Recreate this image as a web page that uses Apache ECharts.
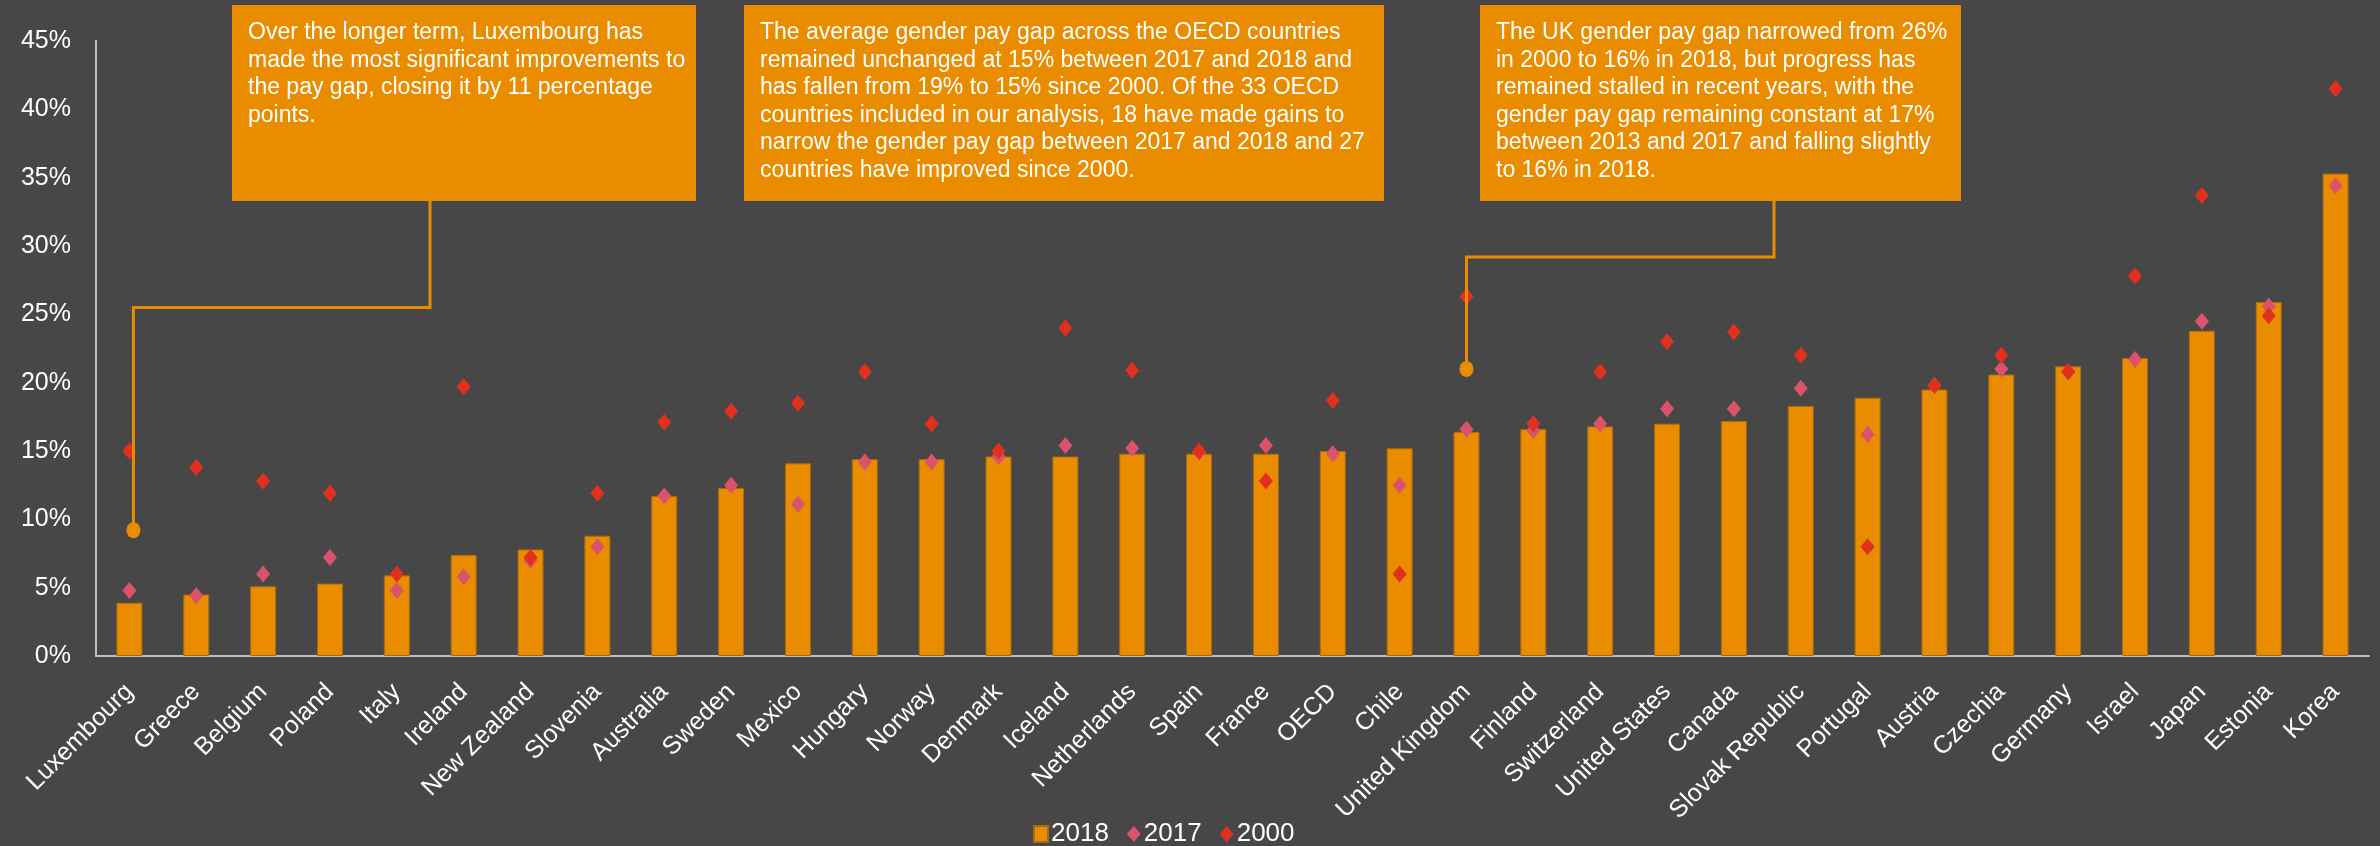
<!DOCTYPE html>
<html>
<head>
<meta charset="utf-8">
<script src="https://cdn.jsdelivr.net/npm/echarts@6/dist/echarts.min.js"></script>
<style>
  html, body { margin: 0; padding: 0; background: #474747; }
  #main { width: 2380px; height: 846px; }
</style>
</head>
<body>
<div id="main"></div>
<script>
var countries = ['Luxembourg', 'Greece', 'Belgium', 'Poland', 'Italy', 'Ireland', 'New Zealand', 'Slovenia',
  'Australia', 'Sweden', 'Mexico', 'Hungary', 'Norway', 'Denmark', 'Iceland', 'Netherlands', 'Spain',
  'France', 'OECD', 'Chile', 'United Kingdom', 'Finland', 'Switzerland', 'United States', 'Canada',
  'Slovak Republic', 'Portugal', 'Austria', 'Czechia', 'Germany', 'Israel', 'Japan', 'Estonia', 'Korea'];
var gap2018 = [3.9, 4.5, 5.1, 5.3, 5.9, 7.4, 7.8, 8.8, 11.7, 12.3, 14.1, 14.4, 14.4, 14.6, 14.6, 14.8, 14.8,
  14.8, 15.0, 15.2, 16.4, 16.6, 16.8, 17.0, 17.2, 18.3, 18.9, 19.5, 20.6, 21.2, 21.8, 23.8, 25.9, 35.3];
var gap2017 = [4.8, 4.4, 6.0, 7.2, 4.8, 5.8, 7.0, 8.0, 11.7, 12.5, 11.1, 14.2, 14.2, 14.6, 15.4, 15.2, 14.9,
  15.4, 14.8, 12.5, 16.6, 16.5, 17.0, 18.1, 18.1, 19.6, 16.2, 19.8, 21.0, 20.8, 21.7, 24.5, 25.6, 34.4];
var gap2000 = [15.0, 13.8, 12.8, 11.9, 6.0, 19.7, 7.2, 11.9, 17.1, 17.9, 18.5, 20.8, 17.0, 15.0, 24.0, 20.9, 15.0,
  12.8, 18.7, 6.0, 26.3, 17.0, 20.8, 23.0, 23.7, 22.0, 8.0, 19.8, 22.0, 20.8, 27.8, 33.7, 24.9, 41.5];

// callouts: text, box [x, y, w, h], anchor category, marker value, elbow value, box attach x
var notes = [
  { text: 'Over the longer term, Luxembourg has\nmade the most significant improvements to\nthe pay gap, closing it by 11 percentage\npoints.',
    box: [232, 5, 464, 196], cat: 'Luxembourg', dot: 9.2, elbow: 25.5, attach: 430, dx: 4 },
  { text: 'The average gender pay gap across the OECD countries\nremained unchanged at 15% between 2017 and 2018 and\nhas fallen from 19% to 15% since 2000. Of the 33 OECD\ncountries included in our analysis, 18 have made gains to\nnarrow the gender pay gap between 2017 and 2018 and 27\ncountries have improved since 2000.',
    box: [744, 5, 640, 196] },
  { text: 'The UK gender pay gap narrowed from 26%\nin 2000 to 16% in 2018, but progress has\nremained stalled in recent years, with the\ngender pay gap remaining constant at 17%\nbetween 2013 and 2017 and falling slightly\nto 16% in 2018.',
    box: [1480, 5, 481, 196], cat: 'United Kingdom', dot: 21.0, elbow: 29.2, attach: 1774, dx: 0 }
];

var orange = '#EA8C00';
var font = 'Liberation Sans, Arial, sans-serif';

var chart = echarts.init(document.getElementById('main'));
var option = {
  backgroundColor: '#474747',
  animation: false,
  textStyle: { fontFamily: font },
  grid: { left: 96, right: 11, top: 41, bottom: 190, containLabel: false },
  legend: {
    top: 816,
    left: 1028,
    itemWidth: 14,
    itemHeight: 16,
    itemGap: 18,
    textStyle: { color: '#fff', fontSize: 26, fontFamily: font, padding: [0, 0, 0, -2] },
    data: [{ name: '2018', icon: 'rect' }, { name: '2017', icon: 'diamond' }, { name: '2000', icon: 'diamond' }]
  },
  xAxis: {
    type: 'category',
    data: countries,
    axisLine: { lineStyle: { color: '#BFBFBF', width: 2 } },
    axisTick: { show: false },
    axisLabel: { rotate: 45, interval: 0, color: '#fff', fontSize: 25, margin: 32, fontFamily: font }
  },
  yAxis: {
    type: 'value',
    min: 0,
    max: 45,
    interval: 5,
    axisLine: { show: true, lineStyle: { color: '#BFBFBF', width: 2 } },
    axisTick: { show: false },
    splitLine: { show: false },
    axisLabel: { formatter: '{value}%', color: '#fff', fontSize: 25, margin: 25, fontFamily: font }
  },
  series: [
    { name: '2018', type: 'bar', data: gap2018, barWidth: 26,
      itemStyle: { color: orange, borderColor: '#A86A10', borderWidth: 1 } },
    { name: '2017', type: 'scatter', data: gap2017, symbol: 'diamond', symbolSize: [14, 17],
      itemStyle: { color: '#DB536A', opacity: 1 }, z: 3 },
    { name: '2000', type: 'scatter', data: gap2000, symbol: 'diamond', symbolSize: [14, 17],
      itemStyle: { color: '#E0301E', opacity: 1 }, z: 4 }
  ]
};
chart.setOption(option);

// annotation boxes and connector lines
var graphics = [];
notes.forEach(function (n) {
  graphics.push({
    type: 'rect', shape: { x: n.box[0], y: n.box[1], width: n.box[2], height: n.box[3] },
    style: { fill: orange }, z: 10
  });
  graphics.push({
    type: 'text', x: n.box[0] + 16, y: n.box[1] + 14, z: 11,
    style: { text: n.text, fill: '#fff', font: '23px ' + font, lineHeight: 27.5 }
  });
  if (n.cat) {
    var p = chart.convertToPixel({ seriesIndex: 0 }, [n.cat, n.dot]);
    var e = chart.convertToPixel({ seriesIndex: 0 }, [n.cat, n.elbow]);
    var x = p[0] + n.dx;
    graphics.push({
      type: 'polyline', z: 9,
      shape: { points: [[x, p[1]], [x, e[1]], [n.attach, e[1]], [n.attach, n.box[1] + n.box[3]]] },
      style: { stroke: orange, lineWidth: 3, fill: null }
    });
    graphics.push({
      type: 'ellipse', z: 9, shape: { cx: x, cy: p[1], rx: 7, ry: 8 },
      style: { fill: orange }
    });
  }
});
chart.setOption({ graphic: graphics });
</script>
</body>
</html>
